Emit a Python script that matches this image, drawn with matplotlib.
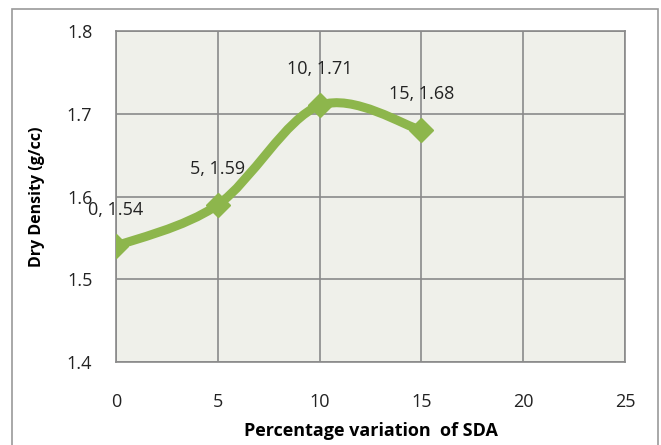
import numpy as np
import matplotlib
matplotlib.use("Agg")
import matplotlib.pyplot as plt
from matplotlib.path import Path
from matplotlib.patches import PathPatch, Rectangle

# data
sda = [0, 5, 10, 15]
density = [1.54, 1.59, 1.71, 1.68]
xticks = [0, 5, 10, 15, 20, 25]
yticks = [1.4, 1.5, 1.6, 1.7, 1.8]

green = "#8db64c"
gridc = "#8a8a8a"

plt.rcParams['font.family'] = ['Open Sans', 'DejaVu Sans']

fig = plt.figure(figsize=(6.61, 4.45), dpi=100)
fig.patches.append(Rectangle((12/661, -0.01), 646/661, 1 - 9/445 + 0.01,
                             transform=fig.transFigure, fill=False,
                             edgecolor="#999999", linewidth=1.2))
ax = fig.add_axes([116/661, 1 - 362/445, 509/661, 331/445])
ax.set_facecolor("#eff0ea")

# smoothed line like the spreadsheet (cardinal bezier through the points)
x = np.array(sda, float)
y = np.array(density, float)
px = np.concatenate([[x[0]], x, [x[-1]]])
py = np.concatenate([[y[0]], y, [y[-1]]])
verts = [(x[0], y[0])]
codes = [Path.MOVETO]
for i in range(len(x) - 1):
    c1 = (px[i+1] + (px[i+2] - px[i]) / 6, py[i+1] + (py[i+2] - py[i]) / 6)
    c2 = (px[i+2] - (px[i+3] - px[i+1]) / 6, py[i+2] - (py[i+3] - py[i+1]) / 6)
    verts += [c1, c2, (x[i+1], y[i+1])]
    codes += [Path.CURVE4] * 3
ax.add_patch(PathPatch(Path(verts, codes), fill=False, edgecolor=green,
                       linewidth=6.5, capstyle='butt', joinstyle='round', zorder=3))
ax.plot(sda, density, linestyle="none", marker="D", markersize=12,
        color=green, zorder=4)

for a, b in zip(sda, density):
    ax.annotate(f"{a}, {b:.2f}", (a, b), xytext=(0, 26), textcoords="offset points",
                ha="center", va="center", fontsize=13, color="#222222")

ax.set_xlim(0, 25)
ax.set_ylim(1.4, 1.8)
ax.set_xticks(xticks)
ax.set_yticks(yticks)
ax.set_yticklabels([f"{v:.1f}" for v in yticks])
ax.grid(True, color=gridc, linewidth=1.2)
ax.set_axisbelow(True)
for s in ax.spines.values():
    s.set_color(gridc)
    s.set_linewidth(1.2)
ax.tick_params(length=0, labelsize=13, colors="#222222")
ax.tick_params(axis='y', pad=17)
ax.tick_params(axis='x', pad=22)
ax.set_xlabel("Percentage variation  of SDA", fontsize=13, fontweight="bold", labelpad=8)
ax.set_ylabel("Dry Density (g/cc)", fontsize=11.5, fontweight="bold", labelpad=16)

fig.savefig("out.png", dpi=100)
